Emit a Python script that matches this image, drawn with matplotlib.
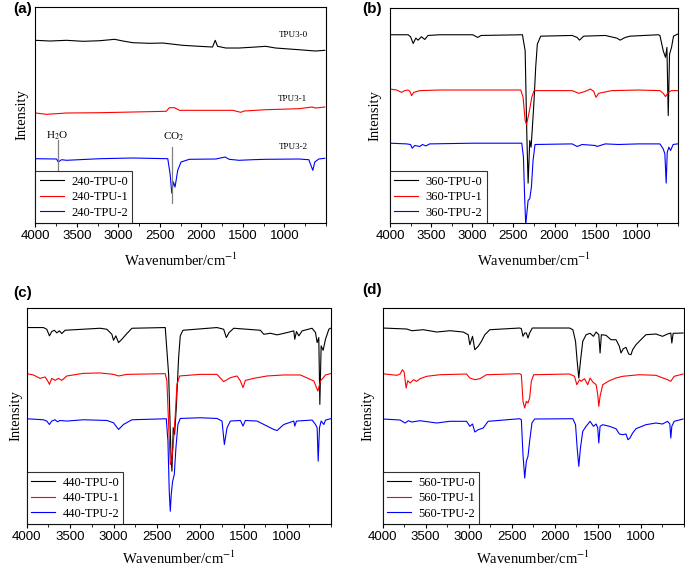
import matplotlib
matplotlib.use('Agg')
import matplotlib.pyplot as plt
from matplotlib.ticker import MultipleLocator

plt.rcParams['font.family'] = ['Liberation Serif', 'DejaVu Serif']
plt.rcParams['mathtext.fontset'] = 'stix'

# ---- data (wavenumber in cm-1, intensity in a.u., offset already applied) ----
a_labels = ['240-TPU-0', '240-TPU-1', '240-TPU-2']
a0_wn = [4000, 3826, 3626, 3426, 3226, 3046, 2946, 2826, 2626, 2466, 2226, 2026, 1866, 1834, 1806, 1706, 1546, 1346, 1226, 1106, 826, 626, 514]
a0_int = [182.7, 182.0, 182.7, 181.7, 182.3, 183.7, 182.0, 180.3, 179.7, 180.0, 177.7, 176.7, 176.0, 182.7, 176.7, 175.0, 175.0, 176.0, 176.7, 175.0, 173.3, 172.0, 172.7]
a1_wn = [4000, 3866, 3626, 3226, 2426, 2386, 2326, 2266, 1626, 1526, 1486, 1226, 826, 666, 626, 514]
a1_int = [110.0, 108.7, 110.0, 110.3, 111.7, 115.3, 115.3, 112.7, 112.7, 110.7, 112.0, 113.3, 114.3, 116.0, 115.0, 116.0]
a2_wn = [4000, 3746, 3726, 3686, 3626, 3226, 2826, 2406, 2378, 2358, 2338, 2318, 2286, 2246, 2146, 1826, 1714, 1666, 1546, 1386, 1226, 826, 706, 658, 634, 586, 514]
a2_int = [64.3, 64.0, 61.0, 63.3, 62.7, 64.3, 65.0, 64.3, 49.3, 30.0, 41.0, 36.0, 52.7, 61.0, 63.7, 64.0, 66.0, 63.7, 62.7, 63.3, 63.7, 64.0, 63.3, 52.7, 61.0, 64.0, 64.7]

b_labels = ['360-TPU-0', '360-TPU-1', '360-TPU-2']
b0_wn = [4000, 3779, 3750, 3718, 3686, 3658, 3618, 3577, 3537, 3396, 2994, 2933, 2893, 2390, 2357, 2337, 2321, 2301, 2285, 2269, 2249, 2229, 2209, 2168, 1786, 1725, 1697, 1645, 1383, 1242, 1202, 1142, 1081, 739, 719, 679, 651, 634, 618, 602, 578, 554, 506]
b0_int = [188.7, 188.7, 186.7, 180.0, 185.3, 183.3, 186.7, 184.0, 188.0, 188.7, 188.7, 186.0, 188.0, 188.7, 172.7, 89.3, 40.0, 82.7, 76.0, 96.0, 122.7, 156.0, 179.3, 187.3, 188.0, 186.0, 183.3, 187.3, 188.0, 185.3, 183.3, 186.0, 187.3, 188.7, 188.0, 172.7, 166.0, 176.0, 107.7, 169.3, 176.0, 187.3, 189.3]
b1_wn = [4000, 3919, 3859, 3819, 3779, 3758, 3738, 3710, 3638, 3396, 2994, 2410, 2382, 2357, 2341, 2321, 2297, 2277, 2249, 1786, 1705, 1625, 1564, 1524, 1496, 1464, 1303, 981, 719, 679, 651, 618, 578, 506]
b1_int = [134.3, 133.3, 131.0, 132.7, 133.3, 132.0, 127.7, 131.0, 132.7, 133.3, 133.3, 133.3, 126.0, 102.7, 98.7, 106.0, 116.0, 126.0, 132.7, 132.7, 130.0, 132.0, 134.3, 132.0, 126.0, 130.0, 132.7, 133.3, 132.7, 130.0, 126.7, 131.0, 132.7, 132.7]
b2_wn = [4000, 3799, 3750, 3730, 3698, 3638, 3605, 3565, 3517, 2994, 2398, 2378, 2362, 2350, 2337, 2321, 2301, 2281, 2261, 2237, 1786, 1725, 1665, 1504, 1484, 1383, 1222, 981, 719, 679, 659, 643, 630, 610, 590, 558, 506]
b2_int = [80.0, 79.3, 78.7, 75.0, 77.7, 76.7, 78.7, 77.3, 79.3, 80.0, 80.0, 66.0, 22.7, -2.0, 9.3, 22.7, 24.3, 36.0, 62.7, 78.7, 79.3, 76.7, 78.7, 77.7, 76.7, 79.3, 78.7, 79.3, 79.3, 74.3, 69.3, 40.0, 71.0, 76.0, 72.7, 78.7, 79.3]

c_labels = ['440-TPU-0', '440-TPU-1', '440-TPU-2']
c0_wn = [4000, 3808, 3769, 3738, 3712, 3681, 3654, 3623, 3596, 3558, 3154, 3077, 3019, 3000, 2973, 2942, 2904, 2846, 2788, 2404, 2365, 2338, 2327, 2312, 2296, 2277, 2250, 2231, 2200, 1808, 1731, 1700, 1669, 1615, 1308, 1269, 1192, 1115, 1000, 923, 912, 892, 865, 827, 712, 673, 654, 635, 623, 608, 585, 558, 519, 500]
c0_int = [196.0, 196.0, 194.3, 187.7, 192.0, 193.3, 190.7, 192.7, 190.0, 193.3, 195.3, 194.3, 189.3, 183.3, 187.7, 181.0, 184.3, 190.0, 195.3, 196.0, 149.3, 69.3, 52.7, 96.0, 89.3, 116.0, 166.0, 187.7, 193.3, 196.0, 194.3, 186.0, 191.0, 195.3, 193.3, 189.3, 190.3, 188.7, 191.0, 192.7, 184.3, 192.0, 187.7, 192.7, 195.3, 191.0, 181.0, 186.0, 119.3, 177.7, 173.3, 184.3, 194.3, 195.3]
c1_wn = [4000, 3923, 3846, 3788, 3762, 3738, 3712, 3673, 3635, 3596, 3538, 3346, 3154, 3000, 2942, 2846, 2404, 2385, 2365, 2346, 2331, 2315, 2288, 2269, 2238, 2000, 1808, 1731, 1654, 1577, 1538, 1508, 1481, 1385, 1231, 1038, 846, 692, 646, 615, 558, 500]
c1_int = [150.0, 148.7, 145.3, 146.7, 143.3, 139.3, 145.3, 143.3, 145.3, 143.3, 147.7, 150.3, 150.7, 149.3, 147.7, 149.3, 150.0, 142.7, 99.3, 59.3, 62.7, 76.0, 109.3, 139.3, 147.7, 149.3, 149.3, 142.0, 146.0, 147.7, 142.7, 136.0, 143.3, 145.3, 147.7, 148.7, 148.7, 142.7, 132.7, 142.7, 148.7, 150.0]
c2_wn = [4000, 3808, 3769, 3738, 3712, 3673, 3646, 3615, 3538, 3346, 3077, 3000, 2942, 2885, 2788, 2392, 2373, 2358, 2346, 2335, 2319, 2300, 2281, 2258, 2231, 2000, 1808, 1750, 1723, 1692, 1654, 1538, 1508, 1481, 1346, 1231, 1154, 1115, 1038, 923, 912, 892, 712, 673, 654, 642, 627, 608, 577, 558, 500]
c2_int = [105.0, 104.0, 102.7, 99.3, 102.7, 104.0, 102.0, 103.3, 102.7, 104.0, 103.3, 101.0, 94.3, 99.3, 104.0, 105.0, 82.7, 32.7, 12.7, 29.3, 42.7, 49.3, 76.0, 99.3, 105.3, 106.0, 105.3, 102.7, 79.3, 96.0, 102.7, 103.3, 97.7, 103.3, 102.7, 97.7, 94.3, 93.3, 99.3, 102.7, 97.7, 102.7, 103.7, 99.3, 96.0, 62.7, 96.0, 102.7, 99.3, 103.7, 105.0]

d_labels = ['560-TPU-0', '560-TPU-1', '560-TPU-2']
d0_wn = [4000, 3718, 3661, 3526, 3371, 3217, 3063, 3005, 2986, 2955, 2928, 2889, 2851, 2812, 2754, 2407, 2388, 2369, 2349, 2330, 2311, 2292, 2261, 1829, 1790, 1759, 1740, 1721, 1702, 1675, 1636, 1590, 1551, 1520, 1489, 1474, 1459, 1405, 1347, 1289, 1250, 1231, 1204, 1173, 1142, 1115, 1096, 1057, 1019, 942, 826, 749, 691, 653, 641, 626, 510]
d0_int = [196.0, 195.0, 193.3, 194.3, 192.0, 193.3, 192.0, 189.3, 179.3, 187.7, 174.3, 177.7, 182.7, 189.3, 194.3, 196.0, 195.3, 187.7, 191.0, 191.0, 186.0, 191.0, 196.0, 196.0, 194.3, 182.7, 162.7, 146.0, 162.7, 182.7, 189.3, 190.7, 187.7, 192.0, 189.3, 171.0, 189.3, 188.7, 184.3, 184.3, 177.7, 171.0, 175.3, 176.7, 170.0, 169.3, 174.3, 179.3, 182.7, 189.3, 190.0, 187.7, 190.0, 191.0, 181.0, 190.7, 191.0]
d1_wn = [4000, 3834, 3796, 3769, 3749, 3738, 3726, 3707, 3680, 3641, 3603, 3564, 3487, 3333, 3024, 2986, 2928, 2870, 2793, 2407, 2388, 2369, 2349, 2330, 2311, 2292, 2272, 2245, 1829, 1771, 1744, 1713, 1694, 1655, 1617, 1590, 1559, 1520, 1501, 1489, 1474, 1443, 1366, 1289, 1212, 1019, 826, 691, 653, 614, 510]
d1_int = [150.3, 148.7, 150.0, 154.3, 152.0, 144.3, 136.0, 143.3, 141.0, 144.3, 142.7, 145.3, 147.7, 149.3, 150.0, 146.0, 144.3, 145.3, 149.3, 150.3, 149.3, 122.7, 116.0, 122.7, 121.0, 126.0, 142.7, 149.3, 150.0, 147.7, 139.3, 144.3, 142.7, 145.3, 139.3, 146.0, 142.0, 139.3, 129.3, 117.7, 127.7, 139.3, 143.3, 146.0, 147.7, 149.3, 148.7, 144.3, 142.7, 147.7, 150.0]
d2_wn = [4000, 3796, 3738, 3699, 3661, 3564, 3371, 3217, 3024, 2986, 2955, 2928, 2889, 2831, 2774, 2407, 2388, 2369, 2349, 2330, 2311, 2292, 2265, 2234, 1790, 1759, 1740, 1721, 1702, 1675, 1636, 1590, 1551, 1520, 1501, 1489, 1474, 1443, 1366, 1289, 1250, 1212, 1173, 1150, 1127, 1096, 1057, 942, 826, 749, 691, 664, 653, 641, 614, 510]
d2_int = [105.0, 104.0, 101.0, 103.3, 102.0, 103.3, 101.0, 102.7, 102.7, 97.7, 100.0, 92.0, 94.3, 96.0, 102.7, 105.3, 104.3, 69.3, 46.0, 62.7, 67.7, 82.7, 101.0, 105.0, 105.3, 99.3, 76.0, 57.7, 76.0, 92.7, 97.7, 102.7, 97.7, 100.0, 96.0, 81.0, 97.7, 99.3, 97.7, 95.3, 90.0, 89.3, 90.0, 84.3, 86.0, 91.0, 95.3, 99.3, 101.0, 100.0, 102.7, 100.0, 86.0, 97.7, 102.7, 105.0]

colors = ['black', 'red', 'blue']


def draw_panel(ax, curves, labels, xpad, ypad):
    for (wn, val), lab, c in zip(curves, labels, colors):
        ax.plot(wn, val, color=c, lw=0.8, label=lab)
    ax.set_xlim(4000, 500)
    ax.set_ylim(0, 216)
    ax.set_yticks([])
    ax.xaxis.set_minor_locator(MultipleLocator(250))
    ax.set_xticks([4000, 3500, 3000, 2500, 2000, 1500, 1000])
    ax.tick_params(axis='x', which='major', direction='out', length=3, width=0.8, pad=2,
                   labelsize=9.5, labelfontfamily='Liberation Sans')
    ax.tick_params(axis='x', which='minor', direction='out', length=2, width=0.6)
    for s in ax.spines.values():
        s.set_linewidth(0.8)
    ax.set_xlabel('Wavenumber/cm$^{-1}$', fontsize=10.5, labelpad=xpad)
    ax.set_ylabel('Intensity', fontsize=10.5, labelpad=ypad)
    leg = ax.legend(loc='lower left', fontsize=9, frameon=True, fancybox=False,
                    edgecolor='black', borderaxespad=0, handlelength=1.9,
                    handletextpad=0.6, borderpad=0.35, labelspacing=0.28)
    leg.get_frame().set_linewidth(0.8)


fig = plt.figure(figsize=(6.85, 5.66), dpi=100)
ax_a = fig.add_axes([0.0518, 0.606, 0.424, 0.3816])
ax_b = fig.add_axes([0.5693, 0.606, 0.4204, 0.3807])
ax_c = fig.add_axes([0.039, 0.0742, 0.4435, 0.3825])
ax_d = fig.add_axes([0.5584, 0.0742, 0.4401, 0.3816])

draw_panel(ax_a, [(a0_wn, a0_int), (a1_wn, a1_int), (a2_wn, a2_int)], a_labels, 7, 5)
draw_panel(ax_b, [(b0_wn, b0_int), (b1_wn, b1_int), (b2_wn, b2_int)], b_labels, 7, 6)
draw_panel(ax_c, [(c0_wn, c0_int), (c1_wn, c1_int), (c2_wn, c2_int)], c_labels, 5, 3)
draw_panel(ax_d, [(d0_wn, d0_int), (d1_wn, d1_int), (d2_wn, d2_int)], d_labels, 5, 6)

# panel letters
for letter, fx, fy in [('(a)', 13, 2), ('(b)', 362, 2), ('(c)', 13, 286), ('(d)', 362, 283)]:
    fig.text(fx / 685, 1 - fy / 566, letter, fontsize=11, fontweight='bold',
             family='Liberation Sans', ha='left', va='top')

# annotations in panel (a)
ax_a.plot([3734, 3734], [52.7, 83.3], color='gray', lw=0.9)
ax_a.plot([2354, 2354], [20, 76], color='gray', lw=0.9)
ax_a.text(3734, 87.5, 'H$_2$O', fontsize=8, ha='center', va='center')
ax_a.text(2330, 86, 'CO$_2$', fontsize=8, ha='center', va='center')
ax_a.text(890, 187.7, 'TPU3-0', fontsize=6.5, ha='center', va='center')
ax_a.text(900, 123.7, 'TPU3-1', fontsize=6.5, ha='center', va='center')
ax_a.text(895, 76, 'TPU3-2', fontsize=6.5, ha='center', va='center')

fig.savefig('out.png', dpi=100)
